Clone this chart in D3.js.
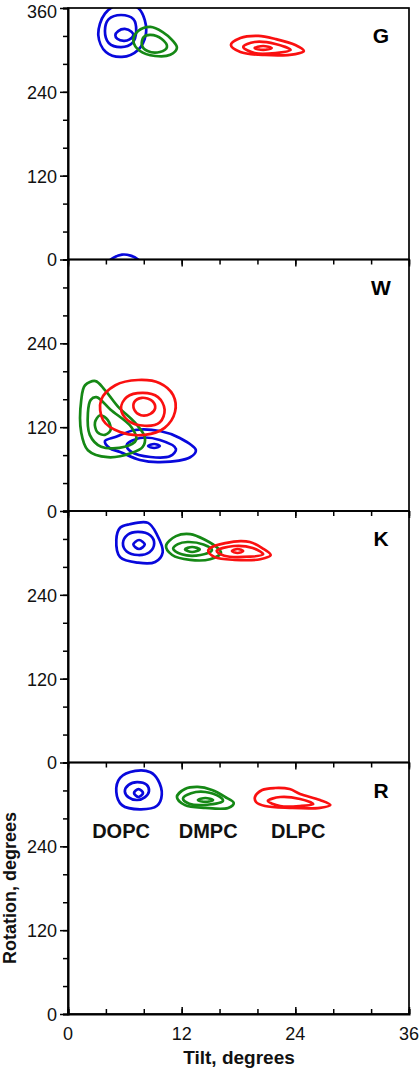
<!DOCTYPE html>
<html><head><meta charset="utf-8">
<script src="https://cdn.jsdelivr.net/npm/d3@7"></script>
<style>
html,body{margin:0;padding:0;background:#fff;}
svg{display:block;font-family:"Liberation Sans",Arial,Helvetica,sans-serif;}
</style></head>
<body><svg id="chart" width="420" height="1070"></svg>
<script>
// ---------- data ----------
const panels = ["G", "W", "K", "R"];
const lipids = ["DOPC", "DMPC", "DLPC"];
const tiltMajorTicks = [0, 12, 24, 36];
const tiltMinorTicks = [0, 4, 8, 12, 16, 20, 24, 28, 32, 36];
const rotMajorTicks = [0, 120, 240, 360];
const rotMinorTicks = [0, 40, 80, 120, 160, 200, 240, 280, 320, 360];
// label positions of lipid names (tilt, rotation) in panel R
const lipidLabelTilt = [5.6, 14.8, 24.3];
const lipidLabelRot = [252, 252, 252];

// contour rings: [tilt, rotation] points, outer -> inner
const G_DOPC = [
  [[5.7,367],[7.4,360],[8.1,343],[8.2,321],[7.4,300],[5.7,290],[4.0,297],[3.2,321],[3.9,352]],
  [[5.6,350],[6.9,344],[7.2,327],[6.8,310],[5.6,304],[4.3,310],[3.9,327],[4.3,344]],
  [[6.0,330],[6.7,326],[6.9,321],[6.5,315],[5.9,313],[5.2,316],[5.0,321],[5.3,327]]
];
const G_DMPC = [
  [[8.7,333],[10.0,325.6],[11.0,314],[11.5,303],[10.8,293],[9.2,291.3],[7.6,298.4],[6.9,312.8],[7.4,327]],
  [[8.7,321.4],[9.9,315.6],[10.45,304.2],[9.7,297],[8.4,298.4],[7.8,307],[8.0,318.5]]
];
const G_DLPC = [
  [[17.2,307],[18.2,317],[20.1,320],[21.9,315.6],[24.0,307],[24.9,298.4],[24.0,294],[20.8,292.7],[18.2,297]],
  [[18.5,304.2],[19.7,311.3],[21.9,308.5],[23.5,300],[21.9,295.6],[19.7,295.6]],
  [[19.7,302.7],[20.6,305.6],[21.5,302.7],[20.6,300]]
];
const W_DOPC = [
  [[3.9,100],[5.0,106],[7.1,116],[9.7,114.5],[11.8,104.5],[13.5,87],[12.9,77],[9.7,70],[7.6,73],[5.5,84.5],[4.4,90]],
  [[6.2,94.5],[7.6,104.5],[9.7,101.6],[11.4,88.8],[10.8,78.7],[8.7,77.3],[6.7,84.5]],
  [[8.45,93],[9.1,95.9],[9.7,93],[9.1,90.2]]
];
const W_DMPC = [
  [[2.9,186],[3.9,173],[5.3,149],[7.1,126],[8.1,106],[7.9,92],[6.7,83],[4.2,77],[2.1,87],[1.4,112],[1.4,159],[1.8,180]],
  [[3.0,163],[4.5,145],[6.7,120],[7.2,102],[6.0,92],[3.5,92],[2.3,109],[2.1,140],[2.4,159]],
  [[3.4,137],[4.2,130],[4.5,116],[3.9,109],[3.1,113],[2.85,127]]
];
const W_DLPC = [
  [[7.4,187.5],[9.7,183],[11.1,166],[11.3,142],[10.2,119],[8.1,109],[5.5,113],[3.7,130],[3.5,159],[5.0,180]],
  [[7.9,169],[9.5,163],[10.2,145],[9.7,127],[8.1,122],[6.3,130],[5.6,147],[6.2,163]],
  [[7.8,162],[8.9,157.5],[9.2,147],[8.7,139],[7.7,137],[7.0,145],[7.0,156]]
];
const K_DOPC = [
  [[6.5,341],[8.45,343],[9.4,326],[10.0,301],[9.2,287],[7.4,286],[5.5,294],[5.1,318.5],[5.5,336]],
  [[7.4,330],[8.7,325],[9.1,313.5],[8.6,301],[7.4,297],[6.2,302],[5.8,314],[6.3,326]],
  [[7.5,318.5],[8.1,312],[7.5,305.6],[6.9,312]]
];
const K_DMPC = [
  [[11.4,324],[12.9,327],[14.5,318.5],[15.8,307],[16.15,300],[15.0,291],[12.9,290],[11.0,297],[10.35,310]],
  [[12.6,315.6],[14.3,312],[15.2,304],[14.0,297],[12.0,298],[11.1,306],[11.6,312.5]],
  [[13.1,308.5],[13.9,305],[13.1,301.3],[12.35,305]]
];
const K_DLPC = [
  [[15.2,308.5],[16.6,314],[18.2,317],[19.2,315.6],[20.5,307],[21.4,297],[20.3,291],[17.6,290],[15.5,294],[14.8,303]],
  [[15.7,303],[17.5,309.9],[19.5,307],[20.6,298],[18.5,294.2],[16.5,296]],
  [[17.9,305.6],[18.5,302.7],[17.9,299.9],[17.3,302.7]]
];
const R_DOPC = [
  [[7.1,348],[8.7,346],[9.5,335],[9.9,313.5],[9.4,298],[7.6,293],[5.7,299],[5.1,318],[5.5,338]],
  [[7.3,332],[8.3,328],[8.55,319],[8.1,310],[7.3,306.3],[6.4,310],[6.0,319],[6.4,328]],
  [[7.44,322],[7.92,316.3],[7.44,310.6],[6.97,316.3]]
];
const R_DMPC = [
  [[12.35,322],[13.7,325],[15.2,320.6],[16.6,310.6],[17.5,302],[16.9,295],[14.5,295],[12.35,299],[11.5,310.6]],
  [[13.0,316],[14.5,317.8],[16.0,311],[16.36,305],[14.5,299.2],[12.8,301],[12.14,308.5]],
  [[14.5,309.2],[15.31,306.3],[14.5,303.5],[13.72,306.3]]
];
const R_DLPC = [
  [[19.74,310.6],[20.5,320.6],[21.85,323.5],[23.4,322],[24.5,315],[26.6,306.3],[27.7,299.2],[26.6,295],[23.4,295],[20.8,297.7],[19.85,303.5]],
  [[21.1,305],[22.4,310.6],[24.5,307.8],[25.9,300.6],[24.5,297.7],[22.4,297.7]]
];
const contourData = {
  G: [G_DOPC, G_DMPC, G_DLPC],
  W: [W_DOPC, W_DMPC, W_DLPC],
  K: [K_DOPC, K_DMPC, K_DLPC],
  R: [R_DOPC, R_DMPC, R_DLPC]
};

// ---------- styles / layout ----------
const colors = {DOPC: "#0808dc", DMPC: "#158815", DLPC: "#fa1010"};
const left = 68, right = 409, top0 = 8, bottom = 1014;
const panelH = (bottom - top0) / panels.length;

const svg = d3.select("#chart");
const x = d3.scaleLinear().domain([0, 36]).range([left, right]);

const line = d3.line().curve(d3.curveCatmullRomClosed.alpha(0.5));

panels.forEach((p, i) => {
  const top = top0 + i * panelH;
  const y = d3.scaleLinear().domain([0, 360]).range([top + panelH, top]);
  const g = svg.append("g");

  // clip
  const cid = "clip" + p;
  svg.append("clipPath").attr("id", cid).append("rect")
    .attr("x", left).attr("y", top).attr("width", right - left).attr("height", panelH);

  // contours (periodic in rotation)
  const cg = g.append("g").attr("clip-path", `url(#${cid})`);
  contourData[p].forEach((rings, li) => {
    const col = colors[lipids[li]];
    [-360, 0, 360].forEach(off => {
      rings.forEach(ring => {
        cg.append("path")
          .attr("d", line(ring.map(d => [x(d[0]), y(d[1] + off)])))
          .attr("fill", "none")
          .attr("stroke", col)
          .attr("stroke-width", 2.7)
          .attr("stroke-linejoin", "round");
      });
    });
  });

  // frame
  g.append("rect").attr("x", left).attr("y", top).attr("width", right - left).attr("height", panelH)
    .attr("fill", "none").attr("stroke", "#000").attr("stroke-width", 1.7);

  // y axis: minor + major
  const yMinor = d3.axisLeft(y).tickValues(rotMinorTicks).tickSize(5).tickFormat("");
  g.append("g").attr("transform", `translate(${left},0)`).call(yMinor)
    .call(a => a.select(".domain").attr("stroke-width", 2));
  const majors = i === 0 ? rotMajorTicks : rotMajorTicks.filter(v => v < 360);
  const yMajor = d3.axisLeft(y).tickValues(majors).tickSize(8).tickPadding(3);
  g.append("g").attr("transform", `translate(${left},0)`).call(yMajor)
    .call(a => a.select(".domain").remove())
    .call(a => a.selectAll("line").attr("stroke-width", 1.5))
    .call(a => a.selectAll("text").attr("font-size", 18).attr("font-family", "Liberation Sans, Arial").attr("fill", "#111")
      .attr("dy", d => d === 360 ? "0.5em" : "0.36em"));
  g.selectAll(".tick line").attr("stroke-width", 1.5);

  // top x ticks (pointing down) for panels below the first
  if (i > 0) {
    g.append("g").attr("transform", `translate(0,${top})`)
      .call(d3.axisBottom(x).tickValues(tiltMinorTicks).tickSize(5).tickFormat(""))
      .call(a => a.select(".domain").remove())
      .call(a => a.selectAll("line").attr("stroke-width", 1.5));
    g.append("g").attr("transform", `translate(0,${top})`)
      .call(d3.axisBottom(x).tickValues(tiltMajorTicks).tickSize(7).tickFormat(""))
      .call(a => a.select(".domain").remove())
      .call(a => a.selectAll("line").attr("stroke-width", 1.5));
  }

  // panel label
  g.append("text").attr("x", 381).attr("y", top + 35).attr("text-anchor", "middle")
    .attr("font-size", 21).attr("font-weight", "bold").text(p);

  // lipid labels in last panel
  if (i === panels.length - 1) {
    lipids.forEach((name, k) => {
      g.append("text").attr("x", x(lipidLabelTilt[k])).attr("y", y(lipidLabelRot[k]))
        .attr("text-anchor", "middle").attr("font-size", 20).attr("font-weight", "bold")
        .attr("fill", "#111").text(name);
    });
  }
});

// bottom x axis: ticks pointing up, labels below
svg.append("g").attr("transform", `translate(0,${bottom})`)
  .call(d3.axisTop(x).tickValues(tiltMinorTicks).tickSize(5).tickFormat(""))
  .call(a => a.select(".domain").attr("stroke-width", 2))
  .call(a => a.selectAll("line").attr("stroke-width", 1.5));
svg.append("g").attr("transform", `translate(0,${bottom})`)
  .call(d3.axisTop(x).tickValues(tiltMajorTicks).tickSize(7).tickFormat(""))
  .call(a => a.select(".domain").remove())
  .call(a => a.selectAll("line").attr("stroke-width", 1.5));
svg.append("g").selectAll("text").data(tiltMajorTicks).join("text")
  .attr("x", d => x(d)).attr("y", 1040).attr("text-anchor", "middle")
  .attr("font-size", 18).attr("fill", "#111").text(d => d);

// axis titles
svg.append("text").attr("x", 239).attr("y", 1064).attr("text-anchor", "middle")
  .attr("font-size", 19).attr("font-weight", "bold").attr("fill", "#111").text("Tilt, degrees");
svg.append("text").attr("transform", "translate(16,888) rotate(-90)").attr("text-anchor", "middle")
  .attr("font-size", 18).attr("font-weight", "bold").attr("fill", "#111").text("Rotation, degrees");
</script></body></html>
